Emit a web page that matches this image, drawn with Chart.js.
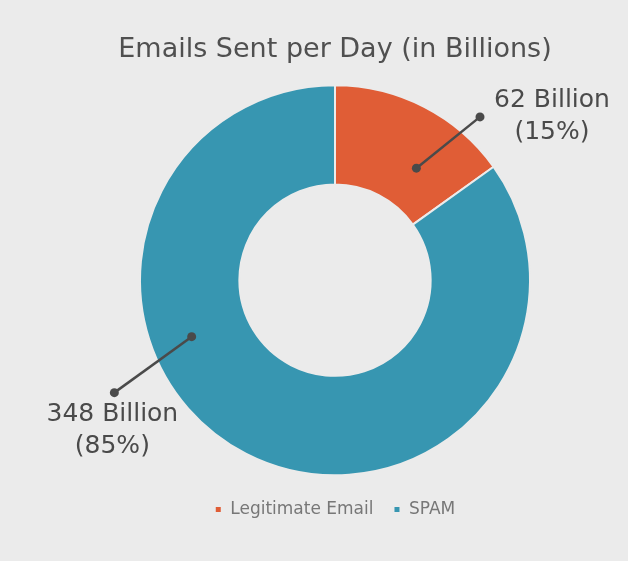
<!DOCTYPE html>
<html>
<head>
<meta charset="utf-8">
<script src="https://cdn.jsdelivr.net/npm/chart.js@4"></script>
<style>
  html, body { margin: 0; padding: 0; background: #ebebeb; }
  #wrap { width: 628px; height: 561px; }
</style>
</head>
<body>
<div id="wrap"><canvas id="chart"></canvas></div>
<script>
const categories = ['Legitimate Email', 'SPAM'];
const emailsBillions = [62, 348];
const percentLabels = ['15%', '85%'];
const sliceColors = ['#e05d36', '#3796b1'];

// leader line placement per slice: [inner angle, inner r, outer angle, outer r] (deg from top, fraction of radius)
const leaderLines = [
  [36, 0.71, 41.6, 1.12],
  [248.5, 0.79, 243, 1.27]
];
// text block centre relative to outer dot
const textOffsets = [[72, -16], [-2, 22]];

const FONT = '"DejaVu Sans", sans-serif';

const calloutPlugin = {
  id: 'callouts',
  afterDatasetsDraw(chart) {
    const ctx = chart.ctx;
    const meta = chart.getDatasetMeta(0);
    meta.data.forEach((arc, i) => {
      const cx = arc.x, cy = arc.y, R = arc.outerRadius;
      const ln = leaderLines[i];
      const a1 = -Math.PI / 2 + ln[0] * Math.PI / 180;
      const a2 = -Math.PI / 2 + ln[2] * Math.PI / 180;
      const x1 = cx + R * ln[1] * Math.cos(a1), y1 = cy + R * ln[1] * Math.sin(a1);
      const x2 = cx + R * ln[3] * Math.cos(a2), y2 = cy + R * ln[3] * Math.sin(a2);
      ctx.save();
      ctx.strokeStyle = '#4a4a4a';
      ctx.fillStyle = '#4a4a4a';
      ctx.lineWidth = 2.5;
      ctx.beginPath();
      ctx.moveTo(x1, y1);
      ctx.lineTo(x2, y2);
      ctx.stroke();
      [[x1, y1], [x2, y2]].forEach(p => {
        ctx.beginPath();
        ctx.arc(p[0], p[1], 4.5, 0, Math.PI * 2);
        ctx.fill();
      });
      const tx = x2 + textOffsets[i][0], ty = y2 + textOffsets[i][1];
      ctx.font = '25px ' + FONT;
      ctx.textAlign = 'center';
      ctx.textBaseline = 'middle';
      ctx.fillText(emailsBillions[i] + ' Billion', tx, ty);
      ctx.fillText('(' + percentLabels[i] + ')', tx, ty + 32);
      ctx.restore();
    });
  }
};

new Chart(document.getElementById('chart'), {
  type: 'doughnut',
  data: {
    labels: categories,
    datasets: [{
      data: emailsBillions,
      backgroundColor: sliceColors,
      borderColor: '#ebebeb',
      borderWidth: 2
    }]
  },
  options: {
    responsive: true,
    maintainAspectRatio: false,
    animation: false,
    radius: 195,
    cutout: 98,
    layout: { padding: { left: 42, right: 0, top: 0, bottom: 33 } },
    plugins: {
      title: {
        display: true,
        text: 'Emails Sent per Day (in Billions)',
        color: '#505050',
        font: { family: FONT, size: 27, weight: 'normal' },
        padding: { top: 33.5, bottom: 13.5 }
      },
      legend: {
        position: 'bottom',
        labels: {
          boxWidth: 7,
          boxHeight: 7,
          color: '#777777',
          font: { family: FONT, size: 17, weight: 'normal' },
          padding: 20
        }
      },
      tooltip: { enabled: false }
    }
  },
  plugins: [calloutPlugin]
});
</script>
</body>
</html>
